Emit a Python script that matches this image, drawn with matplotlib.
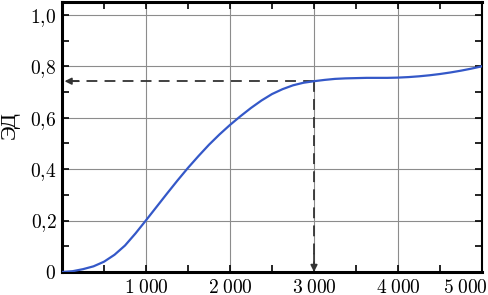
import matplotlib
matplotlib.use("Agg")
import matplotlib.pyplot as plt
import matplotlib.transforms as mtransforms
from matplotlib.ticker import MultipleLocator

# curve, every 125 units
x_values = [0, 125, 250, 375, 500, 625, 750, 875, 1000, 1125, 1250, 1375,
            1500, 1625, 1750, 1875, 2000, 2125, 2250, 2375, 2500, 2625,
            2750, 2875, 3000, 3125, 3250, 3375, 3500, 3625, 3750, 3875,
            4000, 4125, 4250, 4375, 4500, 4625, 4750, 4875, 5000]
y_values = [0.0, 0.003, 0.011, 0.022, 0.040, 0.067, 0.103, 0.150, 0.201,
            0.253, 0.305, 0.356, 0.405, 0.451, 0.495, 0.535, 0.572, 0.606,
            0.638, 0.667, 0.692, 0.711, 0.726, 0.736, 0.742, 0.747, 0.751,
            0.753, 0.754, 0.755, 0.755, 0.755, 0.756, 0.758, 0.761, 0.765,
            0.770, 0.776, 0.783, 0.791, 0.800]

x_ticks = [0, 1000, 2000, 3000, 4000, 5000]
x_tick_labels = ["", r"$1\;000$", r"$2\;000$", r"$3\;000$", r"$4\;000$",
                 r"$5\;000$"]
y_ticks = [0, 0.2, 0.4, 0.6, 0.8, 1.0]
y_tick_labels = [r"$0$", r"$0{,}2$", r"$0{,}4$", r"$0{,}6$", r"$0{,}8$",
                 r"$1{,}0$"]
y_label = "ЭД"

# point marked by the dashed arrows
mark_x = 3000
mark_y = 0.742

plt.rcParams["mathtext.fontset"] = "cm"

fig = plt.figure(figsize=(4.89, 2.95), dpi=100)
ax = fig.add_axes([0.1268, 0.078, 0.8589, 0.9152])

ax.plot(x_values, y_values, color="#3458c8", lw=1.6, zorder=3,
        solid_joinstyle="round")

# dashed guide lines with arrow heads
dash_color = "#333333"
ax.plot([mark_x, 60], [mark_y, mark_y], color=dash_color, lw=1.3,
        dashes=(6, 4), zorder=2)
ax.plot([mark_x, mark_x], [mark_y, 0.02], color=dash_color, lw=1.3,
        dashes=(6, 4), zorder=2)
ax.annotate("", xy=(30, mark_y), xytext=(200, mark_y),
            arrowprops=dict(arrowstyle="-|>", color=dash_color, lw=1.2,
                            mutation_scale=10, shrinkA=0, shrinkB=0))
ax.annotate("", xy=(mark_x, 0.0), xytext=(mark_x, 0.07),
            arrowprops=dict(arrowstyle="-|>", color=dash_color, lw=1.2,
                            mutation_scale=10, shrinkA=0, shrinkB=0))

ax.set_xlim(0, 5000)
ax.set_ylim(0, 1.05)
ax.set_xticks(x_ticks)
ax.set_xticklabels(x_tick_labels)
ax.set_yticks(y_ticks)
ax.set_yticklabels(y_tick_labels)
ax.xaxis.set_minor_locator(MultipleLocator(500))
ax.yaxis.set_minor_locator(MultipleLocator(0.1))
ax.tick_params(which="both", direction="in", top=True, right=True,
               length=5, width=1.2, labelsize=14, pad=4)

ax.grid(True, which="major", color="0.55", lw=0.8)

for side in ["left", "bottom", "top"]:
    ax.spines[side].set_linewidth(2.2)
ax.spines["right"].set_linewidth(1.5)

# last x label sits left of its tick so it stays inside the picture
last = ax.get_xticklabels()[-1]
last.set_horizontalalignment("right")
last.set_transform(last.get_transform() +
                   mtransforms.ScaledTranslation(0.06, 0, fig.dpi_scale_trans))

fig.text(0.002, 0.575, y_label, rotation=90, fontsize=16,
         family="Liberation Serif", ha="left", va="center")

fig.savefig("out.png", dpi=100)
